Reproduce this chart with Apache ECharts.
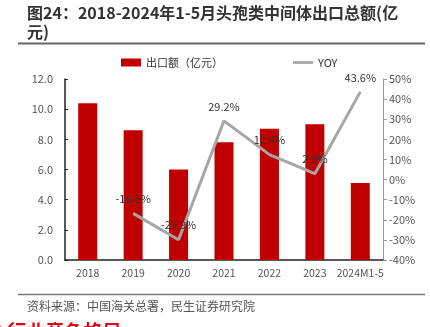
<!DOCTYPE html>
<html>
<head>
<meta charset="utf-8">
<script src="https://cdn.jsdelivr.net/npm/echarts@6/dist/echarts.min.js"></script>
<style>
html,body{margin:0;padding:0;background:#fff;}
#chart{width:430px;height:327px;}
</style>
</head>
<body>
<div id="chart"></div>
<script>
// Export value of cephalosporin intermediates (100 million yuan) and YoY growth
const categories = ['2018', '2019', '2020', '2021', '2022', '2023', '2024M1-5'];
const exportValue = [10.4, 8.6, 6.0, 7.8, 8.7, 9.0, 5.1];
const yoy = [null, -16.8, -29.9, 29.2, 12.4, 2.9, 43.6];
const leftTicks = { min: 0, max: 12, interval: 2 };
const rightTicks = { min: -40, max: 50, interval: 10 };

const FONT = '"Noto Sans CJK SC", "Noto Sans", sans-serif';
const chart = echarts.init(document.getElementById('chart'), null, { renderer: 'canvas' });

chart.setOption({
  backgroundColor: '#fff',
  animation: false,
  textStyle: { fontFamily: FONT },
  graphic: [
    {
      type: 'text', left: 27, top: 3,
      style: {
        text: '图24：2018-2024年1-5月头孢类中间体出口总额(亿\n元)',
        font: 'bold 16px ' + FONT, fill: '#333', lineHeight: 19
      }
    },
    { type: 'line', shape: { x1: 18, y1: 43.5, x2: 425, y2: 43.5 }, style: { stroke: '#666', lineWidth: 2 } },
    { type: 'line', shape: { x1: 18, y1: 294.5, x2: 425, y2: 294.5 }, style: { stroke: '#777', lineWidth: 1.5 } },
    {
      type: 'text', left: 27, top: 300,
      style: { text: '资料来源：中国海关总署，民生证券研究院', font: '12px ' + FONT, fill: '#555' }
    },
    {
      type: 'text', left: -8, top: 322,
      style: { text: '3 行业竞争格局', font: 'bold 19px ' + FONT, fill: '#e60012' }
    }
  ],
  legend: {
    top: 52,
    left: 116,
    itemGap: 70,
    textStyle: { fontSize: 11, color: '#333', fontFamily: FONT },
    data: [
      { name: '出口额（亿元）', icon: 'rect', itemStyle: { color: '#c00000' } },
      { name: 'YOY', icon: 'path://M0,0 L22,0 L22,3 L0,3 Z', itemStyle: { color: '#a6a6a6' } }
    ],
    itemWidth: 20,
    itemHeight: 8
  },
  grid: { left: 65, right: 47, top: 79, bottom: 67, containLabel: false },
  xAxis: {
    type: 'category',
    data: categories,
    axisLine: { lineStyle: { color: '#222', width: 1.5 } },
    axisTick: { show: false },
    axisLabel: { color: '#555', fontSize: 10.5, margin: 8, interval: 0 }
  },
  yAxis: [
    {
      type: 'value',
      min: leftTicks.min, max: leftTicks.max, interval: leftTicks.interval,
      axisLine: { show: true, lineStyle: { color: '#222', width: 1.5 } },
      axisTick: { show: true, inside: true, length: 3, lineStyle: { color: '#222' } },
      splitLine: { show: false },
      axisLabel: { color: '#555', fontSize: 11, margin: 12, formatter: v => v.toFixed(1) }
    },
    {
      type: 'value',
      min: rightTicks.min, max: rightTicks.max, interval: rightTicks.interval,
      axisLine: { show: true, lineStyle: { color: '#999', width: 1 } },
      axisTick: { show: true, length: 4, lineStyle: { color: '#999' } },
      splitLine: { show: false },
      axisLabel: { color: '#555', fontSize: 11, margin: 6, formatter: v => v + '%' }
    }
  ],
  series: [
    {
      name: '出口额（亿元）',
      type: 'bar',
      data: exportValue,
      barWidth: 19,
      itemStyle: { color: '#c00000' },
      z: 2
    },
    {
      name: 'YOY',
      type: 'line',
      yAxisIndex: 1,
      data: yoy,
      symbol: 'circle',
      symbolSize: 0,
      showSymbol: true,
      connectNulls: false,
      lineStyle: { color: '#a6a6a6', width: 3 },
      itemStyle: { color: '#a6a6a6' },
      label: {
        show: true, position: 'top', distance: 9,
        color: '#333', fontSize: 11,
        textBorderWidth: 0,
        formatter: p => p.value == null ? '' : p.value.toFixed(1) + '%'
      },
      labelLayout: { hideOverlap: false },
      z: 3
    }
  ]
});
</script>
</body>
</html>
